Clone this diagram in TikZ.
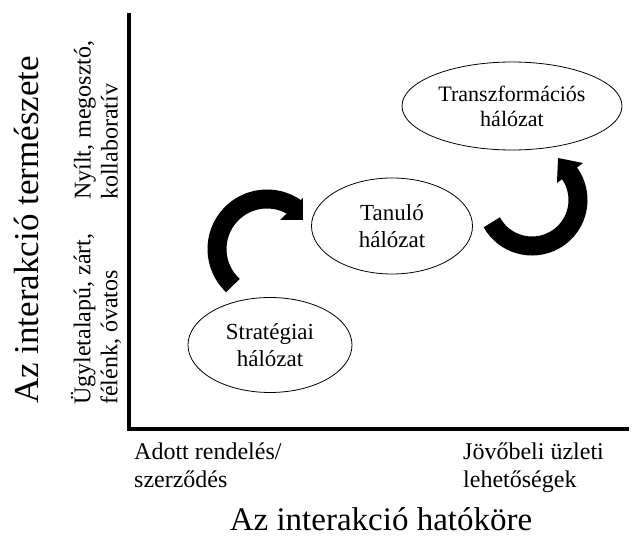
\documentclass[tikz,border=0pt]{standalone}
\usepackage{fontspec}
\setmainfont{Liberation Serif}
\usetikzlibrary{shapes.geometric}

\begin{document}
\begin{tikzpicture}[x=1pt,y=1pt,
  net/.style={draw,ellipse,line width=0.8pt,inner sep=0pt,align=center,font=\fontsize{23}{27}\selectfont},
  sidelabel/.style={rotate=90,anchor=west,inner sep=0pt,align=left,font=\fontsize{24}{27}\selectfont},
  endlabel/.style={anchor=north west,inner sep=0pt,align=left,font=\fontsize{24}{28}\selectfont},
  axistitle/.style={inner sep=0pt,font=\fontsize{33}{38}\selectfont},
  band/.style={line width=19pt}]
\useasboundingbox (0,0) rectangle (635,539);
% axes
\coordinate (origin) at (129,110);
\coordinate (ytop) at (129,526);
\coordinate (xend) at (629,110);
\draw[line width=3.3pt] (ytop) -- (origin) -- (xend);
% networks
\node[net,minimum width=164pt,minimum height=95pt] (strat) at (270,194) {Stratégiai\\hálózat};
\node[net,minimum width=161pt,minimum height=96pt] (tanulo) at (392,313) {Tanuló\\hálózat};
\node[net,minimum width=220pt,minimum height=88pt,font=\fontsize{22}{25}\selectfont] (transz) at (512,433) {Transzformációs\\hálózat};
% curved arrows
\coordinate (turnA) at (267,290);
\coordinate (turnB) at (532,339);
\draw[band] (turnA) ++(227:50) arc[start angle=227,end angle=55,radius=50];
\fill ([shift={(54.8:62.4)}]turnA) -- ([shift={(38.9:46.2)}]turnA) -- ([shift={(65.8:31.8)}]turnA) -- cycle;
\draw[band] (turnB) ++(209:46) arc[start angle=209,end angle=399,radius=46];
\fill ([shift={(36:63)}]turnB) -- ([shift={(58.2:49.4)}]turnB) -- ([shift={(34.2:30.2)}]turnB) -- cycle;
% labels
\node[axistitle,rotate=90,font=\fontsize{35}{40}\selectfont] (ytitle) at (27,309) {Az interakció természete};
\node[sidelabel] (ylow) at (96,134) {Ügyletalapú, zárt,\\félénk, óvatos};
\node[sidelabel] (yhigh) at (96,339) {Nyílt, megosztó,\\kollaboratív};
\node[endlabel] (xlow) at (134,96) {Adott rendelés/\\szerződés};
\node[endlabel] (xhigh) at (463,96) {Jövőbeli üzleti\\lehetőségek};
\node[axistitle] (xtitle) at (381,20) {Az interakció hatóköre};
\end{tikzpicture}
\end{document}
